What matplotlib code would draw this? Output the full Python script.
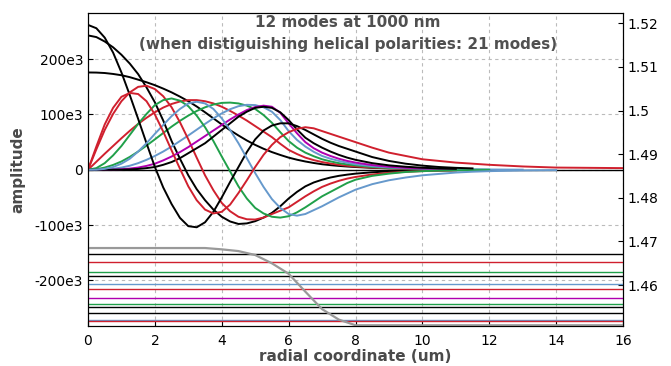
import matplotlib
matplotlib.use("Agg")
import matplotlib.pyplot as plt

# radial sample positions (um): 0..8 every 0.25, then coarser in the tails
r = [0, 0.25, 0.5, 0.75, 1, 1.25, 1.5, 1.75, 2, 2.25, 2.5, 2.75, 3, 3.25, 3.5, 3.75,
     4, 4.25, 4.5, 4.75, 5, 5.25, 5.5, 5.75, 6, 6.25, 6.5, 6.75, 7, 7.25, 7.5, 7.75, 8,
     8.5, 9, 9.5, 10, 10.5, 11, 11.5, 12, 13, 14, 15, 16]

# mode amplitudes (units of 1e3)
lp01 = [176, 175.8, 175, 173.3, 171, 167.5, 163, 158.3, 153, 146.8, 140, 132.3, 124, 114.5, 104, 93,
        82, 71.5, 62, 53, 45, 38, 32, 26.8, 22, 18.2, 15, 12.3, 10, 8.4, 7, 5.9, 5,
        3.5, 2.5, 1.8, 1.3, 0.9, 0.6]
lp11 = [0, 14.5, 29, 43, 57, 70.5, 83, 94, 104, 112.5, 119, 123.5, 126, 126, 124, 120,
        114, 106.5, 98, 89, 79, 69, 59, 47, 36, 28.5, 22, 17.5, 14, 11.3, 9, 7.3, 6,
        4, 2.7, 1.8, 1.2, 0.8, 0.5]
lp21 = [0, 1, 4, 8.7, 15, 23.3, 33, 43.7, 55, 66.5, 78, 88.5, 98, 106.3, 113, 118,
        121, 121.5, 120, 116, 110, 99, 85, 68, 52, 40, 31, 24.5, 19, 15.2, 12, 9.8, 8,
        5, 3.3, 2.2, 1.5, 1, 0.7, 0.5, 0.3]
lp02 = [243, 240, 232, 221.5, 208, 192, 173, 149, 122, 89, 52, 20, -10, -35, -55, -72,
        -85, -93.5, -98, -97, -93, -86.5, -78, -66, -52, -40, -30, -23, -18, -14, -11, -8.8, -7,
        -4.5, -3, -2, -1.3, -0.9, -0.6]
lp31 = [0, 0.1, 0.6, 1.8, 4, 7.3, 12, 18, 25, 33, 42, 52, 62, 72.5, 83, 93,
        102, 109.5, 115, 117.5, 117, 113, 105, 90, 70, 54, 42, 32.5, 25, 20, 16, 12.7, 10,
        6.5, 4.3, 2.9, 2, 1.4, 1, 0.7, 0.5, 0.2]
lp12 = [0, 37, 72, 101, 124, 140, 150, 152, 146, 133, 113, 86, 55, 22, -10, -37,
        -60, -75, -85, -89.5, -90, -86.5, -80, -74, -68, -58, -48, -39, -31, -25, -20, -16, -13,
        -8.5, -5.5, -3.6, -2.4, -1.6, -1.1]
lp41 = [0, 0, 0, 0.3, 1, 2.2, 4, 7, 11, 17, 24, 32, 41, 51, 61, 71,
        81, 91, 100, 108, 113.5, 116, 114, 103, 84, 66, 50, 39, 31, 25, 20, 16, 13,
        8.5, 5.5, 3.6, 2.4, 1.6, 1.1]
lp22 = [0, 3, 12, 26, 43, 63, 83, 101, 117, 126, 129, 125, 115, 98, 77, 52,
        24, -3, -30, -52, -69, -79, -85, -86.5, -84, -77, -68, -58, -48, -40, -32, -24, -18,
        -11, -7, -4, -2.5, -1.5, -1, -0.6, -0.4]
lp03 = [262, 256, 239, 212, 176, 135, 92, 48, 5, -32, -62, -87, -102, -104, -95, -76,
        -50, -22, 5, 32, 55, 71, 80, 84, 84, 79, 72, 64, 56, 49, 43, 38, 33,
        23, 16, 11, 7.5, 5, 3.5, 2.5]
lp51 = [0, 0, 0, 0, 0.2, 0.6, 1.5, 3, 5, 9, 14, 21, 30, 39, 48, 60,
        72, 84, 96, 105, 112, 114, 112, 104, 90, 73, 58, 48, 40, 33, 27, 22, 18,
        12, 8, 5.5, 3.7, 2.5, 1.7]
lp32 = [0, 0.2, 1.6, 5, 11, 20, 33, 48, 65, 81, 97, 110, 120, 123, 120, 110,
        93, 72, 48, 21, -6, -31, -53, -69, -80, -83, -80, -73, -66, -58, -50, -43, -36,
        -26, -19, -14, -10, -7.5, -5, -3.5, -2.5, -1.2, -0.6]
lp13 = [0, 42, 82, 112, 132, 139, 137, 124, 100, 69, 35, 2, -30, -55, -72, -79,
        -76, -63, -42, -19, 5, 27, 45, 59, 68, 74, 77, 75, 70, 65, 60, 55, 50,
        40, 31, 25, 19, 16, 13, 11, 9, 6, 4, 3.5, 3]

modes = [lp01, lp11, lp21, lp02, lp31, lp12, lp41, lp22, lp03, lp51, lp32, lp13]
neff = [1.4671, 1.4653, 1.4629, 1.4621, 1.4602, 1.4591, 1.4570, 1.4556, 1.4551, 1.4535, 1.4521, 1.4517]

# refractive index profile
r_idx = [0, 3.5, 4, 4.5, 5, 5.5, 6, 6.5, 7, 7.5, 8, 16]
n_idx = [1.4685, 1.4685, 1.4682, 1.4678, 1.4669, 1.4650, 1.4626, 1.4585, 1.4545, 1.4521, 1.4508, 1.4508]

K, R, G, B, M = "#000000", "#d0202e", "#20a04a", "#6699cc", "#b000b0"
colors = [K, R, G, K, B, R, M, G, K, K, B, R]


def plot_modes():
    fig = plt.figure(figsize=(6.71, 3.66), dpi=100)
    ax = fig.add_axes([88 / 671, 1 - 325.7 / 366, 535 / 671, 312.4 / 366])
    ax2 = ax.twinx()

    ax.axhline(0, color="black", lw=1.0, zorder=1)
    for vals, c in zip(modes, colors):
        ax.plot(r[:len(vals)], [v * 1e3 for v in vals], color=c, lw=1.4, zorder=3)

    for n, c in zip(neff, colors):
        ax2.axhline(n, color=c, lw=1.0)
    ax2.plot(r_idx, n_idx, color="#999999", lw=1.6)

    ax.set_xlim(0, 16)
    ax.set_ylim(-282e3, 283e3)
    ax2.set_ylim(1.4507, 1.5223)

    ax.set_xticks(range(0, 17, 2))
    yt = [-200e3, -100e3, 0, 100e3, 200e3]
    ax.set_yticks(yt)
    ax.set_yticklabels(["-200e3", "-100e3", "0", "100e3", "200e3"])
    rt = [1.46, 1.47, 1.48, 1.49, 1.5, 1.51, 1.52]
    ax2.set_yticks(rt)
    ax2.set_yticklabels(["1.46", "1.47", "1.48", "1.49", "1.5", "1.51", "1.52"])

    ax.grid(True, color="#bbbbbb", ls=(0, (3, 3)), lw=0.8)
    ax.set_axisbelow(True)
    for a in (ax, ax2):
        a.tick_params(direction="in", length=3.5, labelsize=10, colors="black")
    ax.tick_params(axis="x", pad=6)

    ax.text(0.486, 0.972, "12 modes at 1000 nm", transform=ax.transAxes, ha="center",
            va="center", fontsize=11, fontweight="bold", color="#505050", zorder=5)
    ax.text(0.486, 0.899, "(when distiguishing helical polarities: 21 modes)", transform=ax.transAxes,
            ha="center", va="center", fontsize=11, fontweight="bold", color="#505050", zorder=5)

    ax.set_xlabel("radial coordinate (um)", fontsize=11, fontweight="bold", color="#4a4a4a", labelpad=1)
    ax.set_ylabel("amplitude", fontsize=11, fontweight="bold", color="#4a4a4a", labelpad=7)

    fig.savefig("out.png", dpi=100)


if __name__ == "__main__":
    plot_modes()
